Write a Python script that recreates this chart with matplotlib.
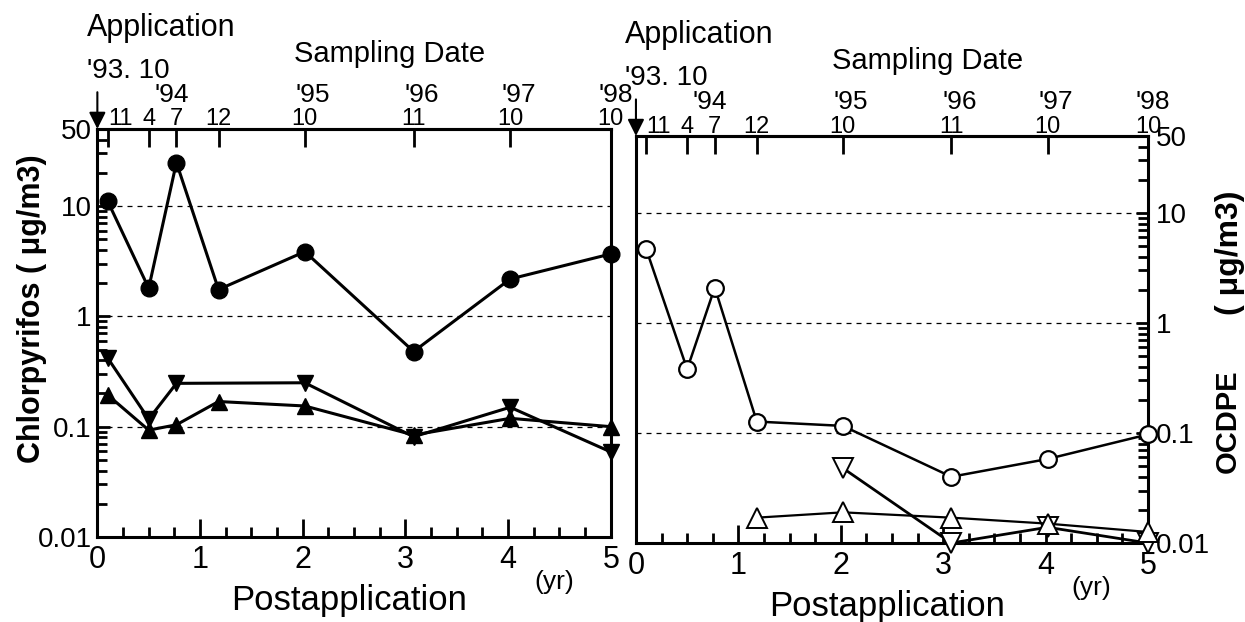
import numpy as np
import matplotlib
matplotlib.use('Agg')
import matplotlib.pyplot as plt
import matplotlib.transforms as mtransforms
from matplotlib import font_manager
from matplotlib.ticker import LogLocator, NullFormatter, MultipleLocator

plt.rcParams['font.family'] = ['Liberation Sans', 'DejaVu Sans']

# sampling times (years after application, '93.10)
sample_x = [0.1, 0.5, 0.77, 1.18, 2.02, 3.08, 4.02, 5.0]
months = ['11', '4', '7', '12', '10', '11', '10', '10']
years = ["'94", "'95", "'96", "'97", "'98"]
year_x = [0.72, 2.1, 3.16, 4.1, 5.05]

# Chlorpyrifos (left panel)
chl_circle = [11.1, 1.8, 24.8, 1.75, 3.86, 0.48, 2.18, 3.68]
chl_down_x = [0.1, 0.5, 0.77, 2.02, 3.08, 4.02, 5.0]
chl_down = [0.42, 0.117, 0.247, 0.25, 0.081, 0.15, 0.059]
chl_up = [0.194, 0.093, 0.104, 0.169, 0.154, 0.084, 0.119, 0.10]

# OCDPE (right panel)
oc_circle = [4.7, 0.38, 2.1, 0.127, 0.116, 0.04, 0.058, 0.097]
oc_down_x = [2.02, 3.08, 4.02, 5.0]
oc_down = [0.048, 0.01, 0.0139, 0.01]
oc_up_x = [1.18, 2.02, 3.08, 4.02, 5.0]
oc_up = [0.017, 0.019, 0.017, 0.015, 0.0126]

y_ticks = [0.01, 0.1, 1, 10, 50]
y_ticklabels = ['0.01', '0.1', '1', '10', '50']
grid_levels = [0.1, 1, 10]

# condensed bold face for the y-axis titles if it is there
names = {f.name for f in font_manager.fontManager.ttflist}
if 'Liberation Sans Narrow' in names:
    ylab_font, ylab_size, oc_size = ['Liberation Sans Narrow', 'DejaVu Sans'], 27, 25
else:
    ylab_font, ylab_size, oc_size = ['Liberation Sans', 'DejaVu Sans'], 22, 21

fig = plt.figure(figsize=(12.45, 6.22), dpi=100)
ax1 = fig.add_axes([0.0782, 0.1367, 0.4124, 0.656])
ax2 = fig.add_axes([0.5108, 0.127, 0.4112, 0.6543])


def setup(ax, side):
    ax.set_yscale('log')
    ax.set_xlim(0, 5)
    ax.set_ylim(0.01, 50)
    for sp in ax.spines.values():
        sp.set_linewidth(2.2)
    for g in grid_levels:
        ax.axhline(g, color='black', lw=0.9, ls=(0, (4, 4)), zorder=1)

    ax.set_xticks(range(6))
    ax.xaxis.set_minor_locator(MultipleLocator(0.25))
    ax.tick_params(axis='x', which='major', direction='in', length=13, width=2,
                   labelsize=22, pad=6, top=False)
    ax.tick_params(axis='x', which='minor', direction='in', length=7, width=2, top=False)

    ax.set_yticks(y_ticks, labels=y_ticklabels)
    ax.yaxis.set_minor_locator(LogLocator(base=10, subs=np.arange(2, 10)))
    ax.yaxis.set_minor_formatter(NullFormatter())
    if side == 'left':
        ax.tick_params(axis='y', which='both', direction='in', left=True, right=False,
                       width=2, labelsize=20, pad=4)
    else:
        ax.yaxis.tick_right()
        ax.tick_params(axis='y', which='both', direction='in', left=False, right=True,
                       width=2, labelsize=20, pad=6)
    ax.tick_params(axis='y', which='major', length=9)
    ax.tick_params(axis='y', which='minor', length=7)

    # sampling date axis on top
    sec = ax.secondary_xaxis('top')
    sec.set_xticks(sample_x, labels=[''] * len(sample_x))
    sec.tick_params(direction='in', length=13, width=2)
    sec.spines['top'].set_linewidth(2.2)

    trans = mtransforms.blended_transform_factory(ax.transData, ax.transAxes)
    for i, (x, m) in enumerate(zip(sample_x, months)):
        dx = 9 if i == 0 else 0
        ax.annotate(m, (x, 1.0), xycoords=trans, xytext=(dx, 2.5),
                    textcoords='offset points', ha='center', va='baseline', fontsize=17)
    for x, y in zip(year_x, years):
        ax.text(x, 1.066, y, transform=trans, ha='center', va='baseline', fontsize=19)

    ax.text(-0.021, 1.228, 'Application', transform=ax.transAxes, ha='left',
            va='baseline', fontsize=22)
    ax.text(-0.021, 1.125, "'93. 10", transform=ax.transAxes, ha='left',
            va='baseline', fontsize=20)
    ax.text(0.57, 1.165, 'Sampling Date', transform=ax.transAxes, ha='center',
            va='baseline', fontsize=21)
    ax.annotate('', xy=(0, 1.0), xycoords=trans, xytext=(0, 1.09), textcoords=trans,
                arrowprops=dict(arrowstyle='-|>', color='black', lw=1.5,
                                mutation_scale=25, shrinkA=0, shrinkB=0))

    ax.text(4.45, -0.11, '(yr)', transform=trans, ha='center', va='center', fontsize=19)
    ax.text(0.49, -0.155, 'Postapplication', transform=ax.transAxes, ha='center',
            va='center', fontsize=25)


setup(ax1, 'left')
setup(ax2, 'right')

# left panel: Chlorpyrifos
ax1.plot(sample_x, chl_circle, color='black', lw=2.2, marker='o', markersize=12,
         clip_on=False, zorder=3)
ax1.plot(chl_down_x, chl_down, color='black', lw=2.2, marker='v', markersize=12,
         clip_on=False, zorder=3)
ax1.plot(sample_x, chl_up, color='black', lw=2.2, marker='^', markersize=12,
         clip_on=False, zorder=3)

# right panel: OCDPE
ax2.plot(sample_x, oc_circle, color='black', lw=1.8, marker='o', markersize=12,
         markerfacecolor='white', markeredgewidth=1.6, clip_on=False, zorder=3)
ax2.plot(oc_down_x, oc_down, color='black', lw=2.0, marker='v', markersize=14,
         markerfacecolor='white', markeredgewidth=1.4, clip_on=False, zorder=3)
ax2.plot(oc_up_x, oc_up, color='black', lw=1.6, marker='^', markersize=14,
         markerfacecolor='white', markeredgewidth=1.4, clip_on=False, zorder=3)

fig.text(32 / 1245, 1 - 309 / 622, 'Chlorpyrifos ( μg/m3)', rotation=90,
         ha='center', va='center', fontsize=ylab_size, fontweight='bold',
         family=ylab_font)
fig.text(1228 / 1245, 1 - 421 / 622, 'OCDPE', rotation=90,
         ha='center', va='center', fontsize=oc_size, fontweight='bold',
         family=ylab_font)
fig.text(1230 / 1245, 1 - 253 / 622, '( μg/m3)', rotation=90,
         ha='center', va='center', fontsize=23, fontweight='bold')

fig.savefig('out.png', dpi=100)
